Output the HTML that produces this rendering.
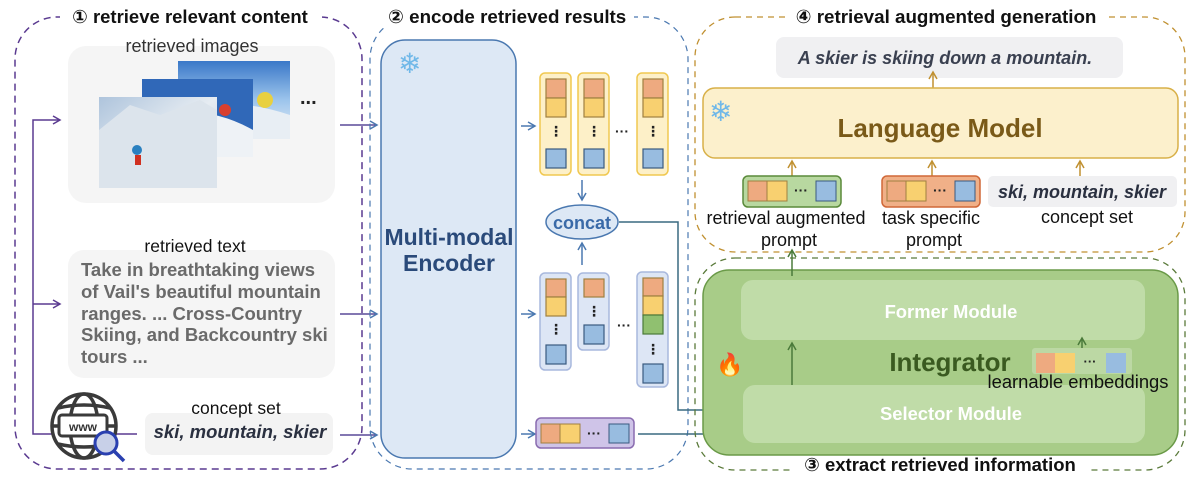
<!DOCTYPE html>
<html><head><meta charset="utf-8"><style>
html,body{margin:0;padding:0;background:#fff;}
svg{display:block;font-family:"Liberation Sans","DejaVu Sans",sans-serif;}
</style></head><body>
<svg width="1200" height="484" viewBox="0 0 1200 484" xmlns="http://www.w3.org/2000/svg">
<defs>
<marker id="ap" markerWidth="10" markerHeight="10" refX="8" refY="5" orient="auto" markerUnits="userSpaceOnUse"><path d="M1,1 L8,5 L1,9" fill="none" stroke="#5a3a90" stroke-width="1.5"/></marker>
<marker id="ab" markerWidth="10" markerHeight="10" refX="8" refY="5" orient="auto" markerUnits="userSpaceOnUse"><path d="M1,1 L8,5 L1,9" fill="none" stroke="#4a78b0" stroke-width="1.5"/></marker>
<marker id="at" markerWidth="10" markerHeight="10" refX="8" refY="5" orient="auto" markerUnits="userSpaceOnUse"><path d="M1,1 L8,5 L1,9" fill="none" stroke="#3a6a80" stroke-width="1.5"/></marker>
<marker id="ag" markerWidth="10" markerHeight="10" refX="8" refY="5" orient="auto" markerUnits="userSpaceOnUse"><path d="M1,1 L8,5 L1,9" fill="none" stroke="#c09030" stroke-width="1.5"/></marker>
<marker id="agr" markerWidth="10" markerHeight="10" refX="8" refY="5" orient="auto" markerUnits="userSpaceOnUse"><path d="M1,1 L8,5 L1,9" fill="none" stroke="#4a7a3a" stroke-width="1.5"/></marker>
<linearGradient id="sky" x1="0" y1="0" x2="0" y2="1"><stop offset="0" stop-color="#3a78c8"/><stop offset="0.5" stop-color="#9cc4ec"/><stop offset="1" stop-color="#eef2f6"/></linearGradient>
<linearGradient id="snow" x1="0" y1="0" x2="1" y2="1"><stop offset="0" stop-color="#aec4dc"/><stop offset="0.5" stop-color="#e6ecf2"/><stop offset="1" stop-color="#c0c8d4"/></linearGradient>
</defs>

<!-- Panel 1 -->
<rect x="15" y="17" width="347" height="452" rx="42" fill="none" stroke="#5a3a90" stroke-width="1.5" stroke-dasharray="7,5"/>
<rect x="60" y="6" width="262" height="22" fill="#fff"/>
<text x="190" y="23" font-size="18.5" font-weight="bold" text-anchor="middle" fill="#111">① retrieve relevant content</text>

<rect x="68" y="46" width="267" height="157" rx="18" fill="#f5f5f5"/>
<text x="192" y="52" font-size="18" text-anchor="middle" fill="#333">retrieved images</text>
<rect x="178" y="61" width="112" height="78" fill="url(#sky)"/>
<path d="M178,139 L178,110 Q230,95 290,115 L290,139Z" fill="#e8eef4"/>
<circle cx="265" cy="100" r="8" fill="#e8d040"/>
<rect x="142" y="79" width="111" height="78" fill="#3068b8"/>
<path d="M142,157 L142,120 Q200,100 253,130 L253,157Z" fill="#eef2f6"/>
<circle cx="225" cy="110" r="6" fill="#d84030"/>
<rect x="99" y="97" width="118" height="91" fill="url(#snow)"/>
<path d="M99,130 L130,105 L160,115 L200,100 L217,110 L217,188 L99,188Z" fill="#dce4ec"/>
<circle cx="137" cy="150" r="5" fill="#2a80c0"/><rect x="135" y="155" width="6" height="10" fill="#d03020"/>
<text x="300" y="104" font-size="20" font-weight="bold" fill="#222">...</text>

<rect x="68" y="250" width="267" height="128" rx="16" fill="#f5f5f5"/>
<text x="195" y="252" font-size="17.5" text-anchor="middle" fill="#111">retrieved text</text>
<g font-size="18.5" font-weight="bold" fill="#6a6a6a">
<text x="81" y="276">Take in breathtaking views</text>
<text x="81" y="298">of Vail's beautiful mountain</text>
<text x="81" y="320">ranges. ... Cross-Country</text>
<text x="81" y="341">Skiing, and Backcountry ski</text>
<text x="81" y="363">tours ...</text>
</g>

<path d="M137,434 L33,434 L33,120 L60,120" fill="none" stroke="#5a3a90" stroke-width="1.5" marker-end="url(#ap)"/>
<path d="M33,304 L60,304" fill="none" stroke="#5a3a90" stroke-width="1.5" marker-end="url(#ap)"/>
<g fill="none" stroke="#3a3a3a" stroke-width="3.5">
<circle cx="84" cy="426" r="32" fill="#fff"/>
<ellipse cx="84" cy="426" rx="14" ry="32"/>
<line x1="52" y1="426" x2="116" y2="426"/>
<path d="M58,408 Q84,402 110,408 M58,444 Q84,450 110,444"/>
</g>
<rect x="59" y="415" width="48" height="21" rx="3" fill="#fff" stroke="#3a3a3a" stroke-width="3"/>
<text x="83" y="431" font-size="12" font-weight="bold" text-anchor="middle" fill="#333">www</text>
<circle cx="106" cy="443" r="11" fill="#c8d0e8" stroke="#2a40b0" stroke-width="3"/>
<line x1="114" y1="451" x2="124" y2="461" stroke="#2a40b0" stroke-width="3.5"/>

<rect x="145" y="413" width="188" height="42" rx="8" fill="#f3f3f3"/>
<text x="236" y="414" font-size="17.5" text-anchor="middle" fill="#111">concept set</text>
<text x="240" y="438" font-size="18.5" font-weight="bold" font-style="italic" text-anchor="middle" fill="#2a3040">ski, mountain, skier</text>

<g stroke="#5a4a98" stroke-width="1.5" fill="none">
<path d="M340,125 L377,125" marker-end="url(#ab)"/>
<path d="M340,314 L377,314" marker-end="url(#ab)"/>
<path d="M340,435 L377,435" marker-end="url(#ab)"/>
</g>

<!-- Panel 2 -->
<rect x="370" y="17" width="318" height="452" rx="42" fill="none" stroke="#4a78b0" stroke-width="1.2" stroke-dasharray="6,5"/>
<rect x="382" y="6" width="252" height="22" fill="#fff"/>
<text x="388" y="23" font-size="18.8" font-weight="bold" fill="#111">② encode retrieved results</text>
<rect x="381" y="40" width="135" height="418" rx="24" fill="#dde8f5" stroke="#4a78b0" stroke-width="1.5"/>
<text x="398" y="73" font-size="28" fill="#70b8e8">❄</text>
<text x="449" y="245" font-size="23" font-weight="bold" text-anchor="middle" fill="#2a4a7a">Multi-modal</text>
<text x="449" y="271" font-size="23" font-weight="bold" text-anchor="middle" fill="#2a4a7a">Encoder</text>

<g stroke="#4a78b0" stroke-width="1.5" fill="none">
<path d="M521,126 L535,126" marker-end="url(#ab)"/>
<path d="M521,314 L535,314" marker-end="url(#ab)"/>
<path d="M521,434 L535,434" marker-end="url(#ab)"/>
<path d="M582,180 L582,200" marker-end="url(#ab)"/>
<path d="M582,265 L582,243" marker-end="url(#ab)"/>
</g>
<g stroke="#f0c850" stroke-width="1.5" fill="#fdf0c8">
<rect x="540" y="73" width="31" height="102" rx="5"/>
<rect x="578" y="73" width="31" height="102" rx="5"/>
<rect x="637" y="73" width="31" height="102" rx="5"/>
</g>
<g stroke="#a08040" stroke-width="1.2">
<rect x="546" y="79" width="20" height="19" fill="#eeaa80"/><rect x="546" y="98" width="20" height="19" fill="#f8d070"/>
<rect x="584" y="79" width="20" height="19" fill="#eeaa80"/><rect x="584" y="98" width="20" height="19" fill="#f8d070"/>
<rect x="643" y="79" width="20" height="19" fill="#eeaa80"/><rect x="643" y="98" width="20" height="19" fill="#f8d070"/>
</g>
<g stroke="#3a5a80" stroke-width="1.2" fill="#98bce0">
<rect x="546" y="149" width="20" height="19"/><rect x="584" y="149" width="20" height="19"/><rect x="643" y="149" width="20" height="19"/>
</g>
<g font-size="14" font-weight="bold" fill="#222" text-anchor="middle">
<text x="556" y="136">⋮</text><text x="594" y="136">⋮</text><text x="653" y="136">⋮</text>
<text x="622" y="136">···</text>
</g>
<ellipse cx="582" cy="222" rx="36" ry="17" fill="#dde8f5" stroke="#4a78b0" stroke-width="1.5"/>
<text x="582" y="229" font-size="18" font-weight="bold" text-anchor="middle" fill="#3a6aa8">concat</text>
<path d="M619,222 L678,222 L678,410 L738,410" fill="none" stroke="#3a6a80" stroke-width="1.5" marker-end="url(#at)"/>
<path d="M638,434 L738,434" fill="none" stroke="#3a6a80" stroke-width="1.5" marker-end="url(#at)"/>

<g stroke="#a8b8dd" stroke-width="1.5" fill="#dde6f5">
<rect x="540" y="273" width="31" height="97" rx="5"/>
<rect x="578" y="273" width="31" height="77" rx="5"/>
<rect x="637" y="272" width="31" height="115" rx="5"/>
</g>
<g stroke="#a08040" stroke-width="1.2">
<rect x="546" y="279" width="20" height="18" fill="#eeaa80"/><rect x="546" y="297" width="20" height="19" fill="#f8d070"/>
<rect x="584" y="279" width="20" height="18" fill="#eeaa80"/>
<rect x="643" y="278" width="20" height="18" fill="#eeaa80"/><rect x="643" y="296" width="20" height="19" fill="#f8d070"/>
<rect x="643" y="315" width="20" height="19" fill="#90c070" stroke="#4a7a3a"/>
</g>
<g stroke="#3a5a80" stroke-width="1.2" fill="#98bce0">
<rect x="546" y="345" width="20" height="19"/><rect x="584" y="325" width="20" height="19"/><rect x="643" y="364" width="20" height="19"/>
</g>
<g font-size="14" font-weight="bold" fill="#222" text-anchor="middle">
<text x="556" y="334">⋮</text><text x="594" y="316">⋮</text><text x="653" y="354">⋮</text>
<text x="624" y="330">···</text>
</g>
<rect x="536" y="418" width="98" height="30" rx="5" fill="#cfc4e8" stroke="#8a6cb0" stroke-width="1.5"/>
<rect x="541" y="424" width="19" height="19" fill="#eeaa80" stroke="#a08040"/>
<rect x="560" y="424" width="20" height="19" fill="#f8d070" stroke="#a08040"/>
<rect x="609" y="424" width="20" height="19" fill="#98bce0" stroke="#3a5a80"/>
<text x="594" y="438" font-size="14" font-weight="bold" text-anchor="middle" fill="#222">···</text>

<!-- Panel 4 -->
<rect x="695" y="17" width="490" height="235" rx="40" fill="none" stroke="#c09030" stroke-width="1.3" stroke-dasharray="6,5"/>
<rect x="786" y="6" width="320" height="22" fill="#fff"/>
<text x="946" y="23" font-size="18.8" font-weight="bold" text-anchor="middle" fill="#111">④ retrieval augmented generation</text>
<rect x="776" y="37" width="347" height="41" rx="8" fill="#f0f0f2"/>
<text x="945" y="64" font-size="18" font-weight="bold" font-style="italic" text-anchor="middle" fill="#3a4050">A skier is skiing down a mountain.</text>
<path d="M933,91 L933,72" stroke="#c09030" stroke-width="1.5" marker-end="url(#ag)"/>
<rect x="703" y="88" width="475" height="70" rx="12" fill="#fcf0cc" stroke="#d8b048" stroke-width="1.5"/>
<text x="709" y="121" font-size="28" fill="#70b8e8">❄</text>
<text x="940" y="137" font-size="26" font-weight="bold" text-anchor="middle" fill="#7a5a18">Language Model</text>
<g stroke="#c09030" stroke-width="1.5">
<path d="M792,176 L792,161" marker-end="url(#ag)"/>
<path d="M932,176 L932,161" marker-end="url(#ag)"/>
<path d="M1080,176 L1080,161" marker-end="url(#ag)"/>
</g>
<rect x="743" y="176" width="98" height="31" rx="5" fill="#b8d8a0" stroke="#5a8a3a" stroke-width="1.5"/>
<rect x="748" y="181" width="19" height="20" fill="#eeaa80" stroke="#a08040"/><rect x="767" y="181" width="20" height="20" fill="#f8d070" stroke="#a08040"/>
<rect x="816" y="181" width="20" height="20" fill="#98bce0" stroke="#3a5a80"/>
<text x="801" y="195" font-size="14" font-weight="bold" text-anchor="middle" fill="#222">···</text>
<rect x="882" y="176" width="98" height="31" rx="5" fill="#f0b088" stroke="#d06838" stroke-width="1.5"/>
<rect x="887" y="181" width="19" height="20" fill="#eeaa80" stroke="#a08040"/><rect x="906" y="181" width="20" height="20" fill="#f8d070" stroke="#a08040"/>
<rect x="955" y="181" width="20" height="20" fill="#98bce0" stroke="#3a5a80"/>
<text x="940" y="195" font-size="14" font-weight="bold" text-anchor="middle" fill="#222">···</text>
<rect x="988" y="176" width="189" height="31" rx="5" fill="#f0f0f2"/>
<text x="1082" y="198" font-size="18" font-weight="bold" font-style="italic" text-anchor="middle" fill="#2a3040">ski, mountain, skier</text>
<g font-size="18" fill="#111" text-anchor="middle">
<text x="786" y="224">retrieval augmented</text>
<text x="789" y="246">prompt</text>
<text x="931" y="224">task specific</text>
<text x="934" y="246">prompt</text>
<text x="1087" y="223">concept set</text>
</g>

<!-- Panel 3 -->
<rect x="695" y="258" width="490" height="212" rx="40" fill="none" stroke="#5a7a3a" stroke-width="1.3" stroke-dasharray="6,5"/>
<rect x="794" y="454" width="294" height="24" fill="#fff"/>
<text x="940" y="471" font-size="18.5" font-weight="bold" text-anchor="middle" fill="#111">③ extract retrieved information</text>
<rect x="703" y="270" width="475" height="185" rx="26" fill="#a8cc88" stroke="#6a9a48" stroke-width="1.5"/>
<rect x="741" y="280" width="404" height="60" rx="12" fill="#c0dca8"/>
<text x="951" y="318" font-size="18.4" font-weight="bold" text-anchor="middle" fill="#fff">Former Module</text>
<rect x="743" y="385" width="402" height="58" rx="12" fill="#c0dca8"/>
<text x="951" y="420" font-size="18.4" font-weight="bold" text-anchor="middle" fill="#fff">Selector Module</text>
<text x="950" y="371" font-size="26" font-weight="bold" text-anchor="middle" fill="#3a5a20">Integrator</text>
<rect x="1032" y="348" width="100" height="26" rx="3" fill="#bcd8a4"/>
<rect x="1036" y="353" width="19" height="20" fill="#eeaa80"/><rect x="1055" y="353" width="20" height="20" fill="#f8d070"/>
<rect x="1106" y="353" width="20" height="20" fill="#98bce0"/>
<text x="1090" y="366" font-size="13" font-weight="bold" text-anchor="middle" fill="#222">···</text>
<text x="1078" y="388" font-size="18.4" text-anchor="middle" fill="#111">learnable embeddings</text>
<text x="716" y="372" font-size="22" fill="#e05020">🔥</text>
<g stroke="#4a7a3a" stroke-width="1.5">
<path d="M792,385 L792,343" marker-end="url(#agr)"/>
<path d="M1082,348 L1082,338" marker-end="url(#agr)"/>
<path d="M792,276 L792,250" marker-end="url(#agr)"/>
</g>
</svg>
</body></html>
